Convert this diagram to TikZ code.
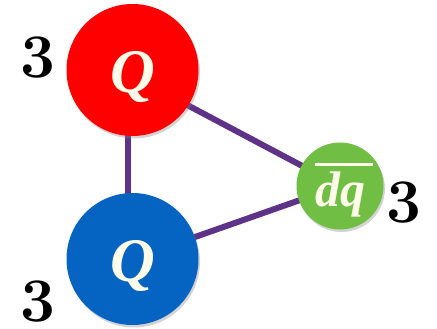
\documentclass[tikz,border=0pt]{standalone}
\usepackage{fontspec}
\newfontfamily\tms{Liberation Serif}
\usetikzlibrary{shadows,backgrounds}
\definecolor{qred}{HTML}{FF0000}
\definecolor{qblue}{HTML}{0563C1}
\definecolor{qgreen}{HTML}{70BF44}
\definecolor{qpurple}{HTML}{5E3287}
\definecolor{qtext}{HTML}{FFFCEA}
\tikzset{
  ball/.style={circle, inner sep=0pt, text=qtext,
    drop shadow={opacity=0.35, shadow xshift=1.5pt, shadow yshift=-2.5pt}},
  link/.style={draw=qpurple, line width=6pt},
  num/.style={font=\fontsize{62}{62}\selectfont\bfseries, inner sep=0pt, anchor=base},
  letter/.style={text=qtext, inner sep=0pt, anchor=base}
}
\begin{document}
\begin{tikzpicture}[x=1pt,y=1pt]
\useasboundingbox (0,0) rectangle (437,329);
\node[ball, fill=qred, minimum size=132pt] (r) at (132.5,259) {};
\node[ball, fill=qblue, minimum size=132pt] (b) at (132.5,70) {};
\node[ball, fill=qgreen, minimum size=87pt] (g) at (340,143) {};
\node[letter, font=\tms\fontsize{62}{62}\selectfont\bfseries\itshape] (rq) at (133,236) {Q};
\node[letter, font=\tms\fontsize{62}{62}\selectfont\bfseries\itshape] (bq) at (133,47) {Q};
\node[letter, font=\tms\fontsize{50}{50}\selectfont\bfseries\itshape] (gq) at (340,122) {dq};
\fill[qtext] (315,163) rectangle (373,166);
\begin{scope}[on background layer]
\draw[link] ([xshift=-5pt]r.center) -- ([xshift=-5pt]b.center);
\draw[link] ([yshift=-6pt]r.center) -- (g.center);
\draw[link] (b.center) -- (g.center);
\end{scope}
\node[num] (n1) at (38,251) {3};
\node[num] (n2) at (404,106) {3};
\node[num] (n3) at (38,7) {3};
\end{tikzpicture}
\end{document}
